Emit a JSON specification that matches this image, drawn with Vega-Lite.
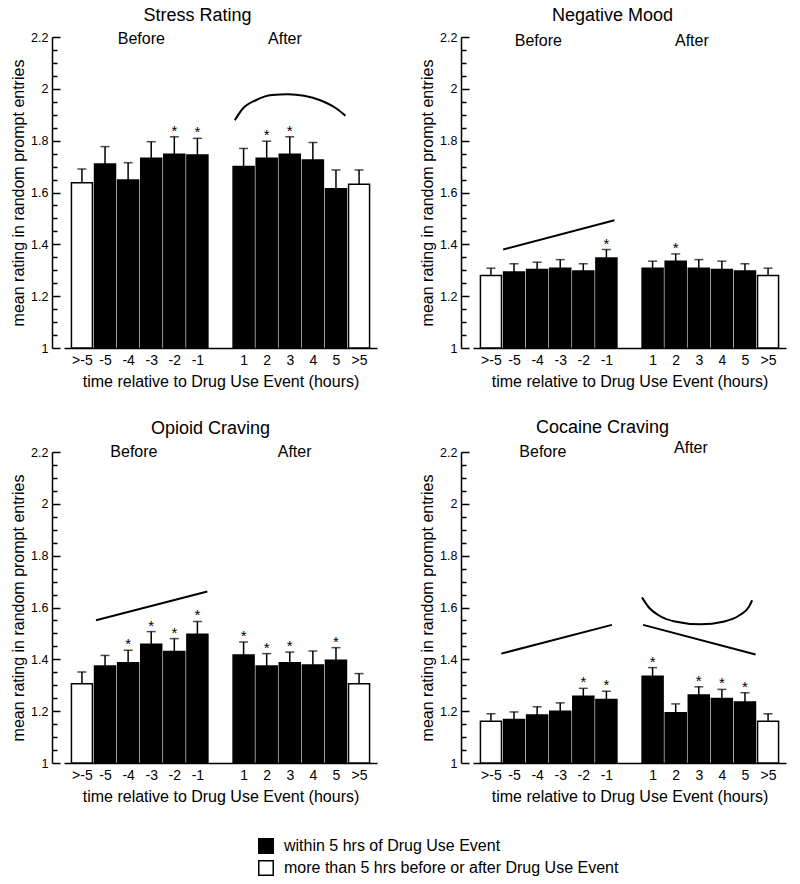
{
  "$schema": "https://vega.github.io/schema/vega-lite/v6.json",
  "padding": {"left": 10, "top": 6, "right": 5, "bottom": 5},
  "columns": 2,
  "spacing": {"column": 42, "row": 30},
  "datasets": {
    "all": [
      {"p": "Stress Rating", "t": "bar", "x": -6, "y": 1.638, "e": 1.691, "k": "more than 5 hrs before or after Drug Use Event", "s": ""},
      {"p": "Stress Rating", "t": "bar", "x": -5, "y": 1.71, "e": 1.777, "k": "within 5 hrs of Drug Use Event", "s": ""},
      {"p": "Stress Rating", "t": "bar", "x": -4, "y": 1.648, "e": 1.715, "k": "within 5 hrs of Drug Use Event", "s": ""},
      {"p": "Stress Rating", "t": "bar", "x": -3, "y": 1.732, "e": 1.796, "k": "within 5 hrs of Drug Use Event", "s": ""},
      {"p": "Stress Rating", "t": "bar", "x": -2, "y": 1.748, "e": 1.815, "k": "within 5 hrs of Drug Use Event", "s": "*"},
      {"p": "Stress Rating", "t": "bar", "x": -1, "y": 1.745, "e": 1.809, "k": "within 5 hrs of Drug Use Event", "s": "*"},
      {"p": "Stress Rating", "t": "bar", "x": 1, "y": 1.7, "e": 1.77, "k": "within 5 hrs of Drug Use Event", "s": ""},
      {"p": "Stress Rating", "t": "bar", "x": 2, "y": 1.732, "e": 1.798, "k": "within 5 hrs of Drug Use Event", "s": "*"},
      {"p": "Stress Rating", "t": "bar", "x": 3, "y": 1.748, "e": 1.815, "k": "within 5 hrs of Drug Use Event", "s": "*"},
      {"p": "Stress Rating", "t": "bar", "x": 4, "y": 1.725, "e": 1.793, "k": "within 5 hrs of Drug Use Event", "s": ""},
      {"p": "Stress Rating", "t": "bar", "x": 5, "y": 1.614, "e": 1.687, "k": "within 5 hrs of Drug Use Event", "s": ""},
      {"p": "Stress Rating", "t": "bar", "x": 6, "y": 1.632, "e": 1.687, "k": "more than 5 hrs before or after Drug Use Event", "s": ""},
      {"p": "Stress Rating", "t": "lab", "x": -3.43, "y": 2.194, "s": "Before"},
      {"p": "Stress Rating", "t": "lab", "x": 2.79, "y": 2.194, "s": "After"},
      {"p": "Stress Rating", "t": "line", "g": "arc", "x": 0.62, "y": 1.879},
      {"p": "Stress Rating", "t": "line", "g": "arc", "x": 0.97, "y": 1.924},
      {"p": "Stress Rating", "t": "line", "g": "arc", "x": 1.53, "y": 1.956},
      {"p": "Stress Rating", "t": "line", "g": "arc", "x": 2.23, "y": 1.976},
      {"p": "Stress Rating", "t": "line", "g": "arc", "x": 2.93, "y": 1.979},
      {"p": "Stress Rating", "t": "line", "g": "arc", "x": 3.62, "y": 1.973},
      {"p": "Stress Rating", "t": "line", "g": "arc", "x": 4.32, "y": 1.956},
      {"p": "Stress Rating", "t": "line", "g": "arc", "x": 5.02, "y": 1.924},
      {"p": "Stress Rating", "t": "line", "g": "arc", "x": 5.41, "y": 1.896},

      {"p": "Negative Mood", "t": "bar", "x": -6, "y": 1.28, "e": 1.308, "k": "more than 5 hrs before or after Drug Use Event", "s": ""},
      {"p": "Negative Mood", "t": "bar", "x": -5, "y": 1.293, "e": 1.325, "k": "within 5 hrs of Drug Use Event", "s": ""},
      {"p": "Negative Mood", "t": "bar", "x": -4, "y": 1.303, "e": 1.331, "k": "within 5 hrs of Drug Use Event", "s": ""},
      {"p": "Negative Mood", "t": "bar", "x": -3, "y": 1.308, "e": 1.341, "k": "within 5 hrs of Drug Use Event", "s": ""},
      {"p": "Negative Mood", "t": "bar", "x": -2, "y": 1.297, "e": 1.325, "k": "within 5 hrs of Drug Use Event", "s": ""},
      {"p": "Negative Mood", "t": "bar", "x": -1, "y": 1.347, "e": 1.38, "k": "within 5 hrs of Drug Use Event", "s": "*"},
      {"p": "Negative Mood", "t": "bar", "x": 1, "y": 1.308, "e": 1.335, "k": "within 5 hrs of Drug Use Event", "s": ""},
      {"p": "Negative Mood", "t": "bar", "x": 2, "y": 1.335, "e": 1.363, "k": "within 5 hrs of Drug Use Event", "s": "*"},
      {"p": "Negative Mood", "t": "bar", "x": 3, "y": 1.308, "e": 1.341, "k": "within 5 hrs of Drug Use Event", "s": ""},
      {"p": "Negative Mood", "t": "bar", "x": 4, "y": 1.303, "e": 1.335, "k": "within 5 hrs of Drug Use Event", "s": ""},
      {"p": "Negative Mood", "t": "bar", "x": 5, "y": 1.297, "e": 1.325, "k": "within 5 hrs of Drug Use Event", "s": ""},
      {"p": "Negative Mood", "t": "bar", "x": 6, "y": 1.28, "e": 1.308, "k": "more than 5 hrs before or after Drug Use Event", "s": ""},
      {"p": "Negative Mood", "t": "lab", "x": -3.95, "y": 2.185, "s": "Before"},
      {"p": "Negative Mood", "t": "lab", "x": 2.7, "y": 2.185, "s": "After"},
      {"p": "Negative Mood", "t": "line", "g": "trend", "x": -5.47, "y": 1.38},
      {"p": "Negative Mood", "t": "line", "g": "trend", "x": -0.65, "y": 1.493},

      {"p": "Opioid Craving", "t": "bar", "x": -6, "y": 1.306, "e": 1.351, "k": "more than 5 hrs before or after Drug Use Event", "s": ""},
      {"p": "Opioid Craving", "t": "bar", "x": -5, "y": 1.374, "e": 1.415, "k": "within 5 hrs of Drug Use Event", "s": ""},
      {"p": "Opioid Craving", "t": "bar", "x": -4, "y": 1.387, "e": 1.435, "k": "within 5 hrs of Drug Use Event", "s": "*"},
      {"p": "Opioid Craving", "t": "bar", "x": -3, "y": 1.458, "e": 1.507, "k": "within 5 hrs of Drug Use Event", "s": "*"},
      {"p": "Opioid Craving", "t": "bar", "x": -2, "y": 1.43, "e": 1.48, "k": "within 5 hrs of Drug Use Event", "s": "*"},
      {"p": "Opioid Craving", "t": "bar", "x": -1, "y": 1.497, "e": 1.546, "k": "within 5 hrs of Drug Use Event", "s": "*"},
      {"p": "Opioid Craving", "t": "bar", "x": 1, "y": 1.417, "e": 1.467, "k": "within 5 hrs of Drug Use Event", "s": "*"},
      {"p": "Opioid Craving", "t": "bar", "x": 2, "y": 1.374, "e": 1.422, "k": "within 5 hrs of Drug Use Event", "s": "*"},
      {"p": "Opioid Craving", "t": "bar", "x": 3, "y": 1.387, "e": 1.428, "k": "within 5 hrs of Drug Use Event", "s": "*"},
      {"p": "Opioid Craving", "t": "bar", "x": 4, "y": 1.378, "e": 1.432, "k": "within 5 hrs of Drug Use Event", "s": ""},
      {"p": "Opioid Craving", "t": "bar", "x": 5, "y": 1.396, "e": 1.445, "k": "within 5 hrs of Drug Use Event", "s": "*"},
      {"p": "Opioid Craving", "t": "bar", "x": 6, "y": 1.306, "e": 1.345, "k": "more than 5 hrs before or after Drug Use Event", "s": ""},
      {"p": "Opioid Craving", "t": "lab", "x": -3.75, "y": 2.2, "s": "Before"},
      {"p": "Opioid Craving", "t": "lab", "x": 3.21, "y": 2.2, "s": "After"},
      {"p": "Opioid Craving", "t": "line", "g": "trend", "x": -5.39, "y": 1.551},
      {"p": "Opioid Craving", "t": "line", "g": "trend", "x": -0.57, "y": 1.662},

      {"p": "Cocaine Craving", "t": "bar", "x": -6, "y": 1.161, "e": 1.19, "k": "more than 5 hrs before or after Drug Use Event", "s": ""},
      {"p": "Cocaine Craving", "t": "bar", "x": -5, "y": 1.168, "e": 1.197, "k": "within 5 hrs of Drug Use Event", "s": ""},
      {"p": "Cocaine Craving", "t": "bar", "x": -4, "y": 1.185, "e": 1.217, "k": "within 5 hrs of Drug Use Event", "s": ""},
      {"p": "Cocaine Craving", "t": "bar", "x": -3, "y": 1.2, "e": 1.232, "k": "within 5 hrs of Drug Use Event", "s": ""},
      {"p": "Cocaine Craving", "t": "bar", "x": -2, "y": 1.258, "e": 1.288, "k": "within 5 hrs of Drug Use Event", "s": "*"},
      {"p": "Cocaine Craving", "t": "bar", "x": -1, "y": 1.245, "e": 1.277, "k": "within 5 hrs of Drug Use Event", "s": "*"},
      {"p": "Cocaine Craving", "t": "bar", "x": 1, "y": 1.335, "e": 1.368, "k": "within 5 hrs of Drug Use Event", "s": "*"},
      {"p": "Cocaine Craving", "t": "bar", "x": 2, "y": 1.194, "e": 1.228, "k": "within 5 hrs of Drug Use Event", "s": ""},
      {"p": "Cocaine Craving", "t": "bar", "x": 3, "y": 1.262, "e": 1.294, "k": "within 5 hrs of Drug Use Event", "s": "*"},
      {"p": "Cocaine Craving", "t": "bar", "x": 4, "y": 1.249, "e": 1.284, "k": "within 5 hrs of Drug Use Event", "s": "*"},
      {"p": "Cocaine Craving", "t": "bar", "x": 5, "y": 1.235, "e": 1.271, "k": "within 5 hrs of Drug Use Event", "s": "*"},
      {"p": "Cocaine Craving", "t": "bar", "x": 6, "y": 1.161, "e": 1.19, "k": "more than 5 hrs before or after Drug Use Event", "s": ""},
      {"p": "Cocaine Craving", "t": "lab", "x": -3.75, "y": 2.2, "s": "Before"},
      {"p": "Cocaine Craving", "t": "lab", "x": 2.66, "y": 2.215, "s": "After"},
      {"p": "Cocaine Craving", "t": "line", "g": "pre", "x": -5.55, "y": 1.422},
      {"p": "Cocaine Craving", "t": "line", "g": "pre", "x": -0.76, "y": 1.533},
      {"p": "Cocaine Craving", "t": "line", "g": "post", "x": 0.59, "y": 1.533},
      {"p": "Cocaine Craving", "t": "line", "g": "post", "x": 5.46, "y": 1.419},
      {"p": "Cocaine Craving", "t": "line", "g": "arc", "x": 0.54, "y": 1.639},
      {"p": "Cocaine Craving", "t": "line", "g": "arc", "x": 0.84, "y": 1.6},
      {"p": "Cocaine Craving", "t": "line", "g": "arc", "x": 1.26, "y": 1.57},
      {"p": "Cocaine Craving", "t": "line", "g": "arc", "x": 1.96, "y": 1.546},
      {"p": "Cocaine Craving", "t": "line", "g": "arc", "x": 3.08, "y": 1.535},
      {"p": "Cocaine Craving", "t": "line", "g": "arc", "x": 4.06, "y": 1.545},
      {"p": "Cocaine Craving", "t": "line", "g": "arc", "x": 4.76, "y": 1.57},
      {"p": "Cocaine Craving", "t": "line", "g": "arc", "x": 5.18, "y": 1.604},
      {"p": "Cocaine Craving", "t": "line", "g": "arc", "x": 5.31, "y": 1.628}
    ]
  },
  "concat": [
    {
      "title": {"text": "Stress Rating", "frame": "group", "offset": 6, "dx": -23},
      "width": 313, "height": 311,
      "data": {"name": "all"},
      "transform": [{"filter": "datum.p === 'Stress Rating'"}],
      "encoding": {
        "x": {"field": "x", "type": "quantitative", "title": "time relative to Drug Use Event (hours)",
          "scale": {"domain": [-6.56, 6.56], "nice": false, "zero": false},
          "axis": {"values": [-6, -5, -4, -3, -2, -1, 1, 2, 3, 4, 5, 6], "labelExpr": "datum.value == -6 ? '>-5' : datum.value == 6 ? '>5' : '' + datum.value", "ticks": false, "labelFontSize": 14, "labelPadding": 5, "titlePadding": 6, "labelFlush": false, "labelOverlap": false}},
        "y": {"field": "y", "type": "quantitative", "title": "mean rating in random prompt entries",
          "scale": {"domain": [1, 2.2], "nice": false, "zero": false},
          "axis": {"values": [1, 1.05, 1.1, 1.15, 1.2, 1.25, 1.3, 1.35, 1.4, 1.45, 1.5, 1.55, 1.6, 1.65, 1.7, 1.75, 1.8, 1.85, 1.9, 1.95, 2, 2.05, 2.1, 2.15, 2.2], "labelExpr": "abs(datum.value*5-round(datum.value*5))<0.01 ? '' + round(datum.value*10)/10 : ''", "tickSize": {"condition": {"test": "abs(datum.value*5-round(datum.value*5))<0.01", "value": -8}, "value": -5}, "labelPadding": 12, "offset": 12, "labelFontSize": 12.5, "titlePadding": 4, "labelOverlap": false}}
      },
      "layer": [
        {"transform": [{"filter": "datum.t === 'bar'"}], "mark": {"type": "bar", "orient": "vertical", "size": 21, "stroke": "black", "strokeWidth": 1.5}, "encoding": {"y2": {"datum": 1}, "fill": {"field": "k", "type": "nominal", "scale": {"domain": ["within 5 hrs of Drug Use Event", "more than 5 hrs before or after Drug Use Event"], "range": ["black", "white"]}, "legend": {"orient": "none", "legendX": 194, "legendY": 801, "title": null, "symbolType": "square", "symbolSize": 210, "symbolStrokeColor": "black", "symbolStrokeWidth": 1.5, "labelFontSize": 16, "labelColor": "black", "rowPadding": 0, "labelOffset": 10, "direction": "vertical", "labelLimit": 500}}}},
        {"transform": [{"filter": "datum.t === 'bar'"}], "mark": {"type": "rule", "strokeWidth": 1.5, "color": "black"}, "encoding": {"y2": {"field": "e"}}},
        {"transform": [{"filter": "datum.t === 'bar'"}], "mark": {"type": "tick", "orient": "horizontal", "size": 9, "thickness": 1.5, "color": "black"}, "encoding": {"y": {"field": "e", "type": "quantitative"}}},
        {"transform": [{"filter": "datum.t === 'bar'"}], "mark": {"type": "text", "fontSize": 15, "dy": -1, "baseline": "alphabetic", "color": "black"}, "encoding": {"y": {"field": "e", "type": "quantitative"}, "text": {"field": "s"}}},
        {"transform": [{"filter": "datum.t === 'lab'"}], "mark": {"type": "text", "fontSize": 16, "baseline": "middle", "color": "black"}, "encoding": {"text": {"field": "s"}}},
        {"transform": [{"filter": "datum.t === 'line'"}], "mark": {"type": "line", "interpolate": "monotone", "strokeWidth": 2, "color": "black"}, "encoding": {"detail": {"field": "g"}}}
      ]
    },
    {
      "title": {"text": "Negative Mood", "frame": "group", "offset": 6, "dx": -17},
      "width": 313, "height": 311,
      "data": {"name": "all"},
      "transform": [{"filter": "datum.p === 'Negative Mood'"}],
      "encoding": {
        "x": {"field": "x", "type": "quantitative", "title": "time relative to Drug Use Event (hours)",
          "scale": {"domain": [-6.56, 6.56], "nice": false, "zero": false},
          "axis": {"values": [-6, -5, -4, -3, -2, -1, 1, 2, 3, 4, 5, 6], "labelExpr": "datum.value == -6 ? '>-5' : datum.value == 6 ? '>5' : '' + datum.value", "ticks": false, "labelFontSize": 14, "labelPadding": 5, "titlePadding": 6, "labelFlush": false, "labelOverlap": false}},
        "y": {"field": "y", "type": "quantitative", "title": "mean rating in random prompt entries",
          "scale": {"domain": [1, 2.2], "nice": false, "zero": false},
          "axis": {"values": [1, 1.05, 1.1, 1.15, 1.2, 1.25, 1.3, 1.35, 1.4, 1.45, 1.5, 1.55, 1.6, 1.65, 1.7, 1.75, 1.8, 1.85, 1.9, 1.95, 2, 2.05, 2.1, 2.15, 2.2], "labelExpr": "abs(datum.value*5-round(datum.value*5))<0.01 ? '' + round(datum.value*10)/10 : ''", "tickSize": {"condition": {"test": "abs(datum.value*5-round(datum.value*5))<0.01", "value": -8}, "value": -5}, "labelPadding": 12, "offset": 12, "labelFontSize": 12.5, "titlePadding": 4, "labelOverlap": false}}
      },
      "layer": [
        {"transform": [{"filter": "datum.t === 'bar'"}], "mark": {"type": "bar", "orient": "vertical", "size": 21, "stroke": "black", "strokeWidth": 1.5}, "encoding": {"y2": {"datum": 1}, "fill": {"field": "k", "type": "nominal", "scale": {"domain": ["within 5 hrs of Drug Use Event", "more than 5 hrs before or after Drug Use Event"], "range": ["black", "white"]}}}},
        {"transform": [{"filter": "datum.t === 'bar'"}], "mark": {"type": "rule", "strokeWidth": 1.5, "color": "black"}, "encoding": {"y2": {"field": "e"}}},
        {"transform": [{"filter": "datum.t === 'bar'"}], "mark": {"type": "tick", "orient": "horizontal", "size": 9, "thickness": 1.5, "color": "black"}, "encoding": {"y": {"field": "e", "type": "quantitative"}}},
        {"transform": [{"filter": "datum.t === 'bar'"}], "mark": {"type": "text", "fontSize": 15, "dy": -1, "baseline": "alphabetic", "color": "black"}, "encoding": {"y": {"field": "e", "type": "quantitative"}, "text": {"field": "s"}}},
        {"transform": [{"filter": "datum.t === 'lab'"}], "mark": {"type": "text", "fontSize": 16, "baseline": "middle", "color": "black"}, "encoding": {"text": {"field": "s"}}},
        {"transform": [{"filter": "datum.t === 'line'"}], "mark": {"type": "line", "interpolate": "monotone", "strokeWidth": 2, "color": "black"}, "encoding": {"detail": {"field": "g"}}}
      ]
    },
    {
      "title": {"text": "Opioid Craving", "frame": "group", "offset": 6, "dx": -10},
      "width": 313, "height": 311,
      "data": {"name": "all"},
      "transform": [{"filter": "datum.p === 'Opioid Craving'"}],
      "encoding": {
        "x": {"field": "x", "type": "quantitative", "title": "time relative to Drug Use Event (hours)",
          "scale": {"domain": [-6.56, 6.56], "nice": false, "zero": false},
          "axis": {"values": [-6, -5, -4, -3, -2, -1, 1, 2, 3, 4, 5, 6], "labelExpr": "datum.value == -6 ? '>-5' : datum.value == 6 ? '>5' : '' + datum.value", "ticks": false, "labelFontSize": 14, "labelPadding": 5, "titlePadding": 6, "labelFlush": false, "labelOverlap": false}},
        "y": {"field": "y", "type": "quantitative", "title": "mean rating in random prompt entries",
          "scale": {"domain": [1, 2.2], "nice": false, "zero": false},
          "axis": {"values": [1, 1.05, 1.1, 1.15, 1.2, 1.25, 1.3, 1.35, 1.4, 1.45, 1.5, 1.55, 1.6, 1.65, 1.7, 1.75, 1.8, 1.85, 1.9, 1.95, 2, 2.05, 2.1, 2.15, 2.2], "labelExpr": "abs(datum.value*5-round(datum.value*5))<0.01 ? '' + round(datum.value*10)/10 : ''", "tickSize": {"condition": {"test": "abs(datum.value*5-round(datum.value*5))<0.01", "value": -8}, "value": -5}, "labelPadding": 12, "offset": 12, "labelFontSize": 12.5, "titlePadding": 4, "labelOverlap": false}}
      },
      "layer": [
        {"transform": [{"filter": "datum.t === 'bar'"}], "mark": {"type": "bar", "orient": "vertical", "size": 21, "stroke": "black", "strokeWidth": 1.5}, "encoding": {"y2": {"datum": 1}, "fill": {"field": "k", "type": "nominal", "scale": {"domain": ["within 5 hrs of Drug Use Event", "more than 5 hrs before or after Drug Use Event"], "range": ["black", "white"]}}}},
        {"transform": [{"filter": "datum.t === 'bar'"}], "mark": {"type": "rule", "strokeWidth": 1.5, "color": "black"}, "encoding": {"y2": {"field": "e"}}},
        {"transform": [{"filter": "datum.t === 'bar'"}], "mark": {"type": "tick", "orient": "horizontal", "size": 9, "thickness": 1.5, "color": "black"}, "encoding": {"y": {"field": "e", "type": "quantitative"}}},
        {"transform": [{"filter": "datum.t === 'bar'"}], "mark": {"type": "text", "fontSize": 15, "dy": -1, "baseline": "alphabetic", "color": "black"}, "encoding": {"y": {"field": "e", "type": "quantitative"}, "text": {"field": "s"}}},
        {"transform": [{"filter": "datum.t === 'lab'"}], "mark": {"type": "text", "fontSize": 16, "baseline": "middle", "color": "black"}, "encoding": {"text": {"field": "s"}}},
        {"transform": [{"filter": "datum.t === 'line'"}], "mark": {"type": "line", "interpolate": "monotone", "strokeWidth": 2, "color": "black"}, "encoding": {"detail": {"field": "g"}}}
      ]
    },
    {
      "title": {"text": "Cocaine Craving", "frame": "group", "offset": 3, "dx": -27},
      "width": 313, "height": 311,
      "data": {"name": "all"},
      "transform": [{"filter": "datum.p === 'Cocaine Craving'"}],
      "encoding": {
        "x": {"field": "x", "type": "quantitative", "title": "time relative to Drug Use Event (hours)",
          "scale": {"domain": [-6.56, 6.56], "nice": false, "zero": false},
          "axis": {"values": [-6, -5, -4, -3, -2, -1, 1, 2, 3, 4, 5, 6], "labelExpr": "datum.value == -6 ? '>-5' : datum.value == 6 ? '>5' : '' + datum.value", "ticks": false, "labelFontSize": 14, "labelPadding": 5, "titlePadding": 6, "labelFlush": false, "labelOverlap": false}},
        "y": {"field": "y", "type": "quantitative", "title": "mean rating in random prompt entries",
          "scale": {"domain": [1, 2.2], "nice": false, "zero": false},
          "axis": {"values": [1, 1.05, 1.1, 1.15, 1.2, 1.25, 1.3, 1.35, 1.4, 1.45, 1.5, 1.55, 1.6, 1.65, 1.7, 1.75, 1.8, 1.85, 1.9, 1.95, 2, 2.05, 2.1, 2.15, 2.2], "labelExpr": "abs(datum.value*5-round(datum.value*5))<0.01 ? '' + round(datum.value*10)/10 : ''", "tickSize": {"condition": {"test": "abs(datum.value*5-round(datum.value*5))<0.01", "value": -8}, "value": -5}, "labelPadding": 12, "offset": 12, "labelFontSize": 12.5, "titlePadding": 4, "labelOverlap": false}}
      },
      "layer": [
        {"transform": [{"filter": "datum.t === 'bar'"}], "mark": {"type": "bar", "orient": "vertical", "size": 21, "stroke": "black", "strokeWidth": 1.5}, "encoding": {"y2": {"datum": 1}, "fill": {"field": "k", "type": "nominal", "scale": {"domain": ["within 5 hrs of Drug Use Event", "more than 5 hrs before or after Drug Use Event"], "range": ["black", "white"]}}}},
        {"transform": [{"filter": "datum.t === 'bar'"}], "mark": {"type": "rule", "strokeWidth": 1.5, "color": "black"}, "encoding": {"y2": {"field": "e"}}},
        {"transform": [{"filter": "datum.t === 'bar'"}], "mark": {"type": "tick", "orient": "horizontal", "size": 9, "thickness": 1.5, "color": "black"}, "encoding": {"y": {"field": "e", "type": "quantitative"}}},
        {"transform": [{"filter": "datum.t === 'bar'"}], "mark": {"type": "text", "fontSize": 15, "dy": -1, "baseline": "alphabetic", "color": "black"}, "encoding": {"y": {"field": "e", "type": "quantitative"}, "text": {"field": "s"}}},
        {"transform": [{"filter": "datum.t === 'lab'"}], "mark": {"type": "text", "fontSize": 16, "baseline": "middle", "color": "black"}, "encoding": {"text": {"field": "s"}}},
        {"transform": [{"filter": "datum.t === 'line'"}], "mark": {"type": "line", "interpolate": "monotone", "strokeWidth": 2, "color": "black"}, "encoding": {"detail": {"field": "g"}}}
      ]
    }
  ],
  "config": {
    "font": "Liberation Sans",
    "view": {"stroke": null},
    "axis": {"grid": false, "domainColor": "black", "domainWidth": 1.5, "tickColor": "black", "tickWidth": 1.5, "labelColor": "black", "titleColor": "black", "titleFontWeight": "normal", "titleFontSize": 16, "labelFont": "Liberation Sans", "titleFont": "Liberation Sans"},
    "title": {"fontSize": 18, "fontWeight": "normal", "color": "black", "font": "Liberation Sans"},
    "text": {"font": "Liberation Sans"}
  }
}
